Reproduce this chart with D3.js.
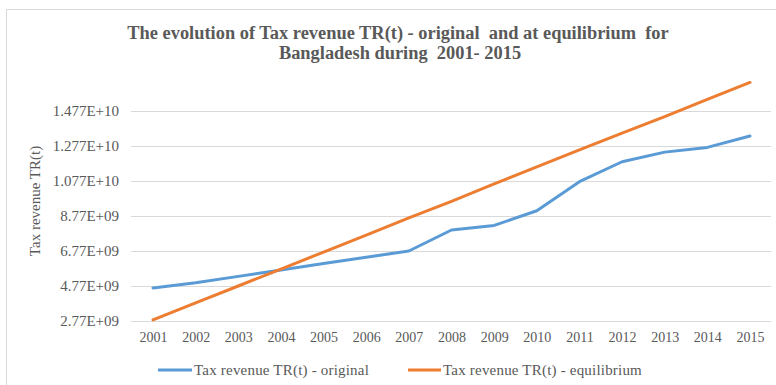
<!DOCTYPE html>
<html>
<head>
<meta charset="utf-8">
<script src="https://cdn.jsdelivr.net/npm/d3@7/dist/d3.min.js"></script>
<style>
  html, body { margin: 0; padding: 0; background: #fff; }
  svg { display: block; }
</style>
</head>
<body>
<svg id="chart" width="776" height="385"></svg>
<script>
// Tax revenue for Bangladesh, 2001-2015
const years = ["2001","2002","2003","2004","2005","2006","2007","2008","2009","2010","2011","2012","2013","2014","2015"];
const original = [4.66e9, 4.96e9, 5.32e9, 5.68e9, 6.06e9, 6.41e9, 6.77e9, 7.97e9, 8.23e9, 9.07e9, 10.73e9, 11.87e9, 12.42e9, 12.69e9, 13.34e9];
const equilibrium = [2.83e9, 3.80e9, 4.77e9, 5.74e9, 6.71e9, 7.68e9, 8.66e9, 9.61e9, 10.60e9, 11.58e9, 12.55e9, 13.50e9, 14.45e9, 15.44e9, 16.40e9];
const yTicks = [2.77e9, 4.77e9, 6.77e9, 8.77e9, 10.77e9, 12.77e9, 14.77e9];
const yTickLabels = ["2.77E+09", "4.77E+09", "6.77E+09", "8.77E+09", "1.077E+10", "1.277E+10", "1.477E+10"];
const seriesNames = ["Tax revenue TR(t) - original", "Tax revenue TR(t) - equilibrium"];
const colors = ["#5b9bd5", "#ed7d31"];

const FONT = "'Liberation Serif', 'Times New Roman', serif";
const TEXT = "#595959";

const svg = d3.select("#chart");

// chart frame
svg.append("rect")
  .attr("x", 6.5).attr("y", 9.5)
  .attr("width", 780).attr("height", 390)
  .attr("fill", "#fff").attr("stroke", "#d9d9d9");

const plot = { left: 131, right: 771, top: 76, bottom: 321 };

const x = d3.scalePoint().domain(years).range([153, 750]);
const y = d3.scaleLinear().domain([2.77e9, 16.77e9]).range([plot.bottom, plot.top]);

// gridlines
svg.append("g")
  .selectAll("line")
  .data(yTicks)
  .join("line")
  .attr("x1", plot.left).attr("x2", plot.right)
  .attr("y1", d => Math.round(y(d)) + 0.5)
  .attr("y2", d => Math.round(y(d)) + 0.5)
  .attr("stroke", "#d9d9d9").attr("stroke-width", 1);

function styleText(sel, size) {
  sel.style("font-family", FONT)
     .style("font-size", size + "px")
     .style("fill", TEXT);
}

// y axis labels
const yAxis = d3.axisLeft(y)
  .tickValues(yTicks)
  .tickFormat((d, i) => yTickLabels[i])
  .tickSize(0)
  .tickPadding(0);
const gy = svg.append("g").attr("transform", "translate(119,0)").call(yAxis);
gy.select(".domain").remove();
styleText(gy.selectAll("text"), 15);

// x axis labels
const xAxis = d3.axisBottom(x).tickSize(0).tickPadding(0);
const gx = svg.append("g").attr("transform", `translate(0,${plot.bottom + 11})`).call(xAxis);
gx.select(".domain").remove();
styleText(gx.selectAll("text"), 14);

// y axis title
const yt = svg.append("text")
  .attr("transform", "translate(40,201) rotate(-90)")
  .attr("text-anchor", "middle")
  .text("Tax revenue TR(t)");
styleText(yt, 15);

// title
const title = svg.append("text")
  .attr("text-anchor", "middle")
  .style("font-weight", "bold");
styleText(title, 18.4);
title.append("tspan").attr("x", 398).attr("y", 39)
  .text("The evolution of Tax revenue TR(t) - original\u00a0 and at equilibrium\u00a0 for");
title.append("tspan").attr("x", 400).attr("y", 59)
  .text("Bangladesh during\u00a0\u00a02001- 2015");

// series lines
const line = d3.line()
  .x((d, i) => x(years[i]))
  .y(d => y(d));

[original, equilibrium].forEach((vals, k) => {
  svg.append("path")
    .datum(vals)
    .attr("d", line)
    .attr("fill", "none")
    .attr("stroke", colors[k])
    .attr("stroke-width", 3)
    .attr("stroke-linejoin", "round")
    .attr("stroke-linecap", "round");
});

// legend
const legendItems = [
  { x1: 158, x2: 192, tx: 194 },
  { x1: 408, x2: 441, tx: 443 }
];
const lg = svg.append("g");
legendItems.forEach((it, k) => {
  lg.append("line")
    .attr("x1", it.x1).attr("x2", it.x2)
    .attr("y1", 370).attr("y2", 370)
    .attr("stroke", colors[k]).attr("stroke-width", 3);
  const t = lg.append("text")
    .attr("x", it.tx).attr("y", 375)
    .style("letter-spacing", "0.2px")
    .text(seriesNames[k]);
  styleText(t, 15);
});
</script>
</body>
</html>
